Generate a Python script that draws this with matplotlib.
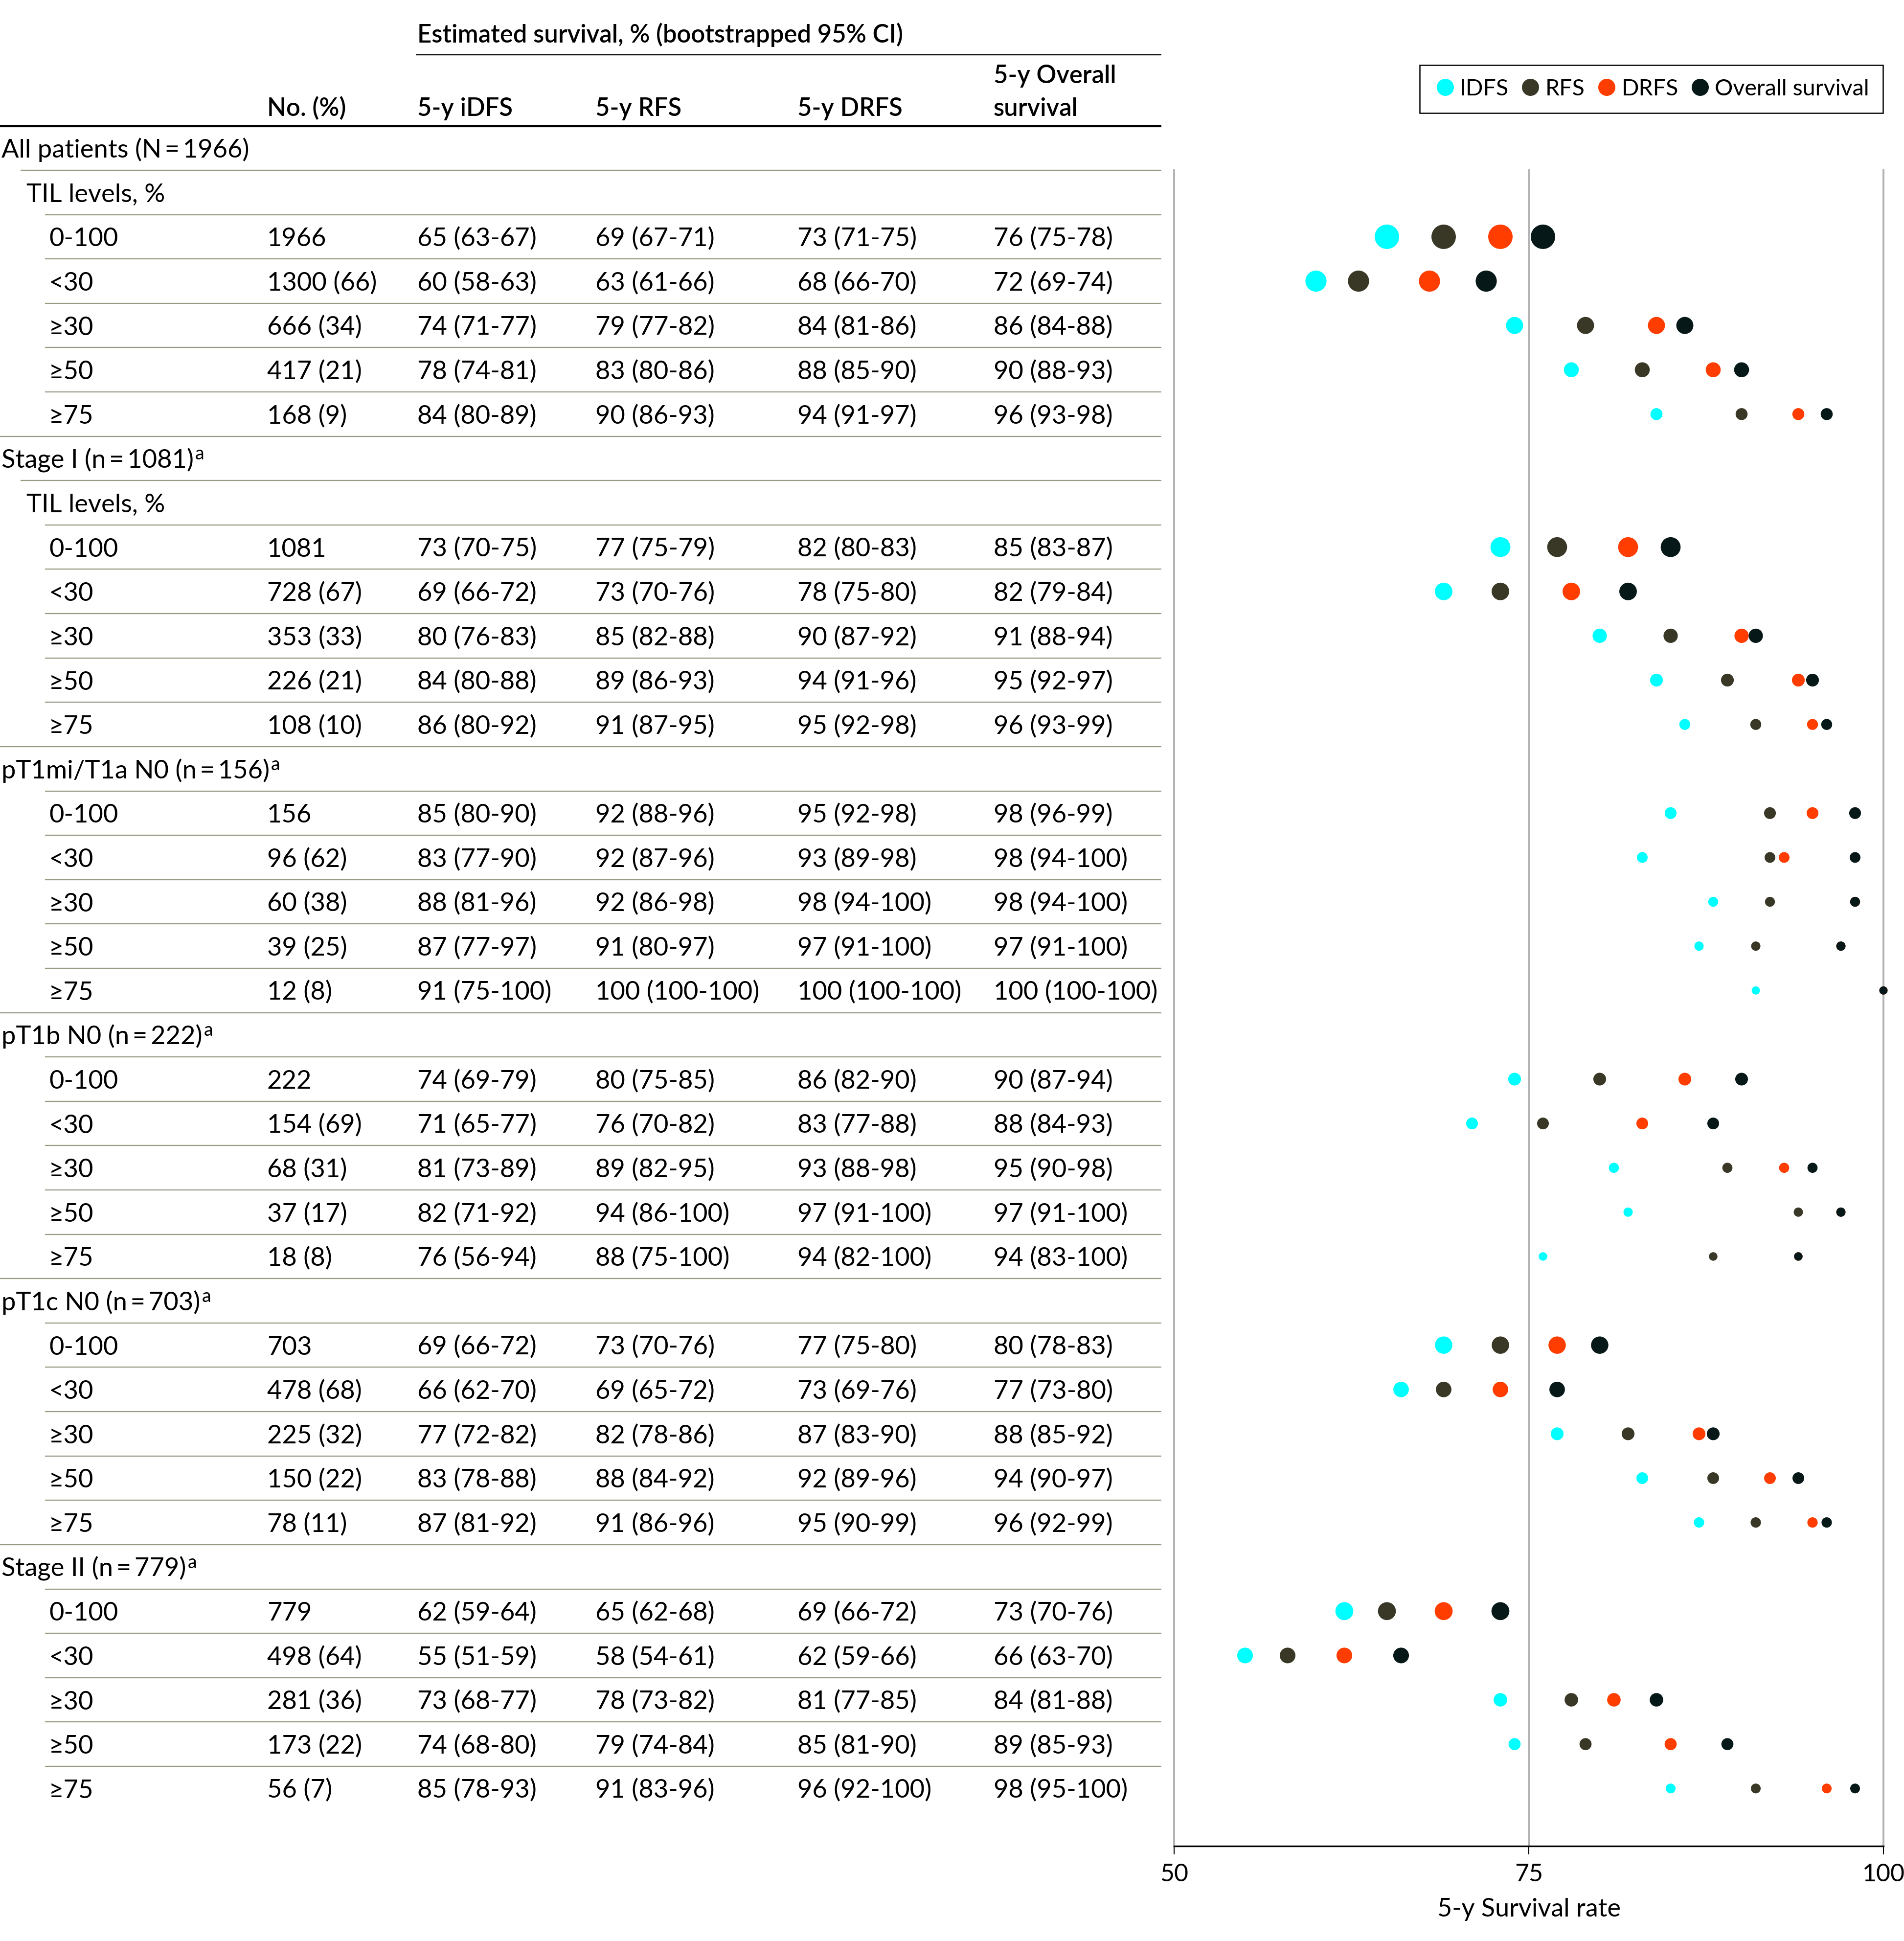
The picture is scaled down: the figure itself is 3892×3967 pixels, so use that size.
import numpy as np
import matplotlib
matplotlib.use("Agg")
import matplotlib.pyplot as plt
from matplotlib.lines import Line2D

plt.rcParams['font.family'] = ['Lato', 'DejaVu Sans']

# ---------------- data ----------------
group_titles = ["All patients (N\u2009=\u20091966)", "Stage I (n\u2009=\u20091081)",
                "pT1mi/T1a N0 (n\u2009=\u2009156)", "pT1b N0 (n\u2009=\u2009222)",
                "pT1c N0 (n\u2009=\u2009703)", "Stage II (n\u2009=\u2009779)"]
group_note = [False, True, True, True, True, True]
group_has_til = [True, True, False, False, False, False]
til_header = "TIL levels, %"
til_levels = ["0-100", "<30", "\u226530", "\u226550", "\u226575"]

n_counts = [[1966, 1300, 666, 417, 168],
            [1081, 728, 353, 226, 108],
            [156, 96, 60, 39, 12],
            [222, 154, 68, 37, 18],
            [703, 478, 225, 150, 78],
            [779, 498, 281, 173, 56]]
n_pcts = [[None, 66, 34, 21, 9],
          [None, 67, 33, 21, 10],
          [None, 62, 38, 25, 8],
          [None, 69, 31, 17, 8],
          [None, 68, 32, 22, 11],
          [None, 64, 36, 22, 7]]

idfs_est = [[65, 60, 74, 78, 84], [73, 69, 80, 84, 86], [85, 83, 88, 87, 91],
            [74, 71, 81, 82, 76], [69, 66, 77, 83, 87], [62, 55, 73, 74, 85]]
idfs_lo = [[63, 58, 71, 74, 80], [70, 66, 76, 80, 80], [80, 77, 81, 77, 75],
           [69, 65, 73, 71, 56], [66, 62, 72, 78, 81], [59, 51, 68, 68, 78]]
idfs_hi = [[67, 63, 77, 81, 89], [75, 72, 83, 88, 92], [90, 90, 96, 97, 100],
           [79, 77, 89, 92, 94], [72, 70, 82, 88, 92], [64, 59, 77, 80, 93]]

rfs_est = [[69, 63, 79, 83, 90], [77, 73, 85, 89, 91], [92, 92, 92, 91, 100],
           [80, 76, 89, 94, 88], [73, 69, 82, 88, 91], [65, 58, 78, 79, 91]]
rfs_lo = [[67, 61, 77, 80, 86], [75, 70, 82, 86, 87], [88, 87, 86, 80, 100],
          [75, 70, 82, 86, 75], [70, 65, 78, 84, 86], [62, 54, 73, 74, 83]]
rfs_hi = [[71, 66, 82, 86, 93], [79, 76, 88, 93, 95], [96, 96, 98, 97, 100],
          [85, 82, 95, 100, 100], [76, 72, 86, 92, 96], [68, 61, 82, 84, 96]]

drfs_est = [[73, 68, 84, 88, 94], [82, 78, 90, 94, 95], [95, 93, 98, 97, 100],
            [86, 83, 93, 97, 94], [77, 73, 87, 92, 95], [69, 62, 81, 85, 96]]
drfs_lo = [[71, 66, 81, 85, 91], [80, 75, 87, 91, 92], [92, 89, 94, 91, 100],
           [82, 77, 88, 91, 82], [75, 69, 83, 89, 90], [66, 59, 77, 81, 92]]
drfs_hi = [[75, 70, 86, 90, 97], [83, 80, 92, 96, 98], [98, 98, 100, 100, 100],
           [90, 88, 98, 100, 100], [80, 76, 90, 96, 99], [72, 66, 85, 90, 100]]

os_est = [[76, 72, 86, 90, 96], [85, 82, 91, 95, 96], [98, 98, 98, 97, 100],
          [90, 88, 95, 97, 94], [80, 77, 88, 94, 96], [73, 66, 84, 89, 98]]
os_lo = [[75, 69, 84, 88, 93], [83, 79, 88, 92, 93], [96, 94, 94, 91, 100],
         [87, 84, 90, 91, 83], [78, 73, 85, 90, 92], [70, 63, 81, 85, 95]]
os_hi = [[78, 74, 88, 93, 98], [87, 84, 94, 97, 99], [99, 100, 100, 100, 100],
         [94, 93, 98, 100, 100], [83, 80, 92, 97, 99], [76, 70, 88, 93, 100]]

series_labels = ["IDFS", "RFS", "DRFS", "Overall survival"]
series_colors = ["#00FFFF", "#393826", "#FF3D00", "#071818"]

col_headers = ["No. (%)", "5-y iDFS", "5-y RFS", "5-y DRFS", "5-y Overall\nsurvival"]
spanner = "Estimated survival, % (bootstrapped 95% CI)"
xticks = [50, 75, 100]
xlabel = "5-y Survival rate"

# ---------------- layout (pixels) ----------------
W, H = 3892, 3967
DPI = 300
fig = plt.figure(figsize=(W / DPI, H / DPI), dpi=DPI)
fig.patch.set_facecolor("white")

bg = fig.add_axes([0, 0, 1, 1])
bg.set_xlim(0, W)
bg.set_ylim(H, 0)
bg.axis("off")

ROW0 = 302.7
STEP = 90.61
TXT = 12.6
HDR = 12.2
CAP = 19.5  # half cap height in px
X_GROUP, X_TIL, X_VAL = 3, 54, 100
X_COLS = [546, 853, 1217, 1630, 2031]
X_END = 2374
SEP_COLOR = "#969c84"

# build rows
rows = []
for g in range(len(group_titles)):
    rows.append(("group", g, None))
    if group_has_til[g]:
        rows.append(("til", g, None))
    for i in range(len(til_levels)):
        rows.append(("value", g, i))

renderer = fig.canvas.get_renderer()
inv = bg.transData.inverted()

def fmt(e, lo, hi):
    return f"{e} ({lo}-{hi})"

value_row_k = []
for k, (kind, g, i) in enumerate(rows):
    yc = ROW0 + STEP * k
    yb = yc + CAP
    if kind == "group":
        t = bg.text(X_GROUP, yb, group_titles[g], fontsize=TXT, va="baseline", ha="left")
        if group_note[g]:
            bb = t.get_window_extent(renderer)
            xe = inv.transform((bb.x1, bb.y0))[0]
            bg.text(xe + 3, yb - 17, "a", fontsize=9, va="baseline", ha="left")
    elif kind == "til":
        bg.text(X_TIL, yb, til_header, fontsize=TXT, va="baseline", ha="left")
    else:
        bg.text(X_VAL, yb, til_levels[i], fontsize=TXT, va="baseline", ha="left")
        n = n_counts[g][i]
        p = n_pcts[g][i]
        bg.text(X_COLS[0], yb, f"{n}" if p is None else f"{n} ({p})", fontsize=TXT,
                va="baseline", ha="left")
        for c, (es, lo, hi) in enumerate([(idfs_est, idfs_lo, idfs_hi),
                                          (rfs_est, rfs_lo, rfs_hi),
                                          (drfs_est, drfs_lo, drfs_hi),
                                          (os_est, os_lo, os_hi)]):
            bg.text(X_COLS[c + 1], yb, fmt(es[g][i], lo[g][i], hi[g][i]), fontsize=TXT,
                    va="baseline", ha="left")
        value_row_k.append(k)
    # separator line after row
    if k < len(rows) - 1:
        nxt = rows[k + 1][0]
        if kind == "group":
            xs = 42 if nxt == "til" else 92
        elif kind == "til":
            xs = 92
        else:
            xs = 0 if nxt == "group" else 92
        ysep = yc + STEP / 2
        bg.plot([xs, X_END], [ysep, ysep], color=SEP_COLOR, lw=0.55, solid_capstyle="butt")

# header
bg.text(X_COLS[1], 87, spanner, fontsize=HDR, fontweight="semibold", va="baseline", ha="left")
bg.plot([850, X_END], [111.6, 111.6], color="black", lw=0.55, solid_capstyle="butt")
for c, h in enumerate(col_headers):
    lines = h.split("\n")
    for j, ln in enumerate(reversed(lines)):
        bg.text(X_COLS[c], 237 - 67 * j, ln, fontsize=HDR, fontweight="semibold",
                va="baseline", ha="left")
bg.plot([0, X_END], [258, 258], color="black", lw=1.0, solid_capstyle="butt")

# ---------------- dot plot ----------------
AX_L, AX_R, AX_T, AX_B = 2400, 3850, 348, 3773
ax = fig.add_axes([AX_L / W, 1 - AX_B / H, (AX_R - AX_L) / W, (AX_B - AX_T) / H])
ax.set_facecolor("none")
ax.set_xlim(50, 100)
ax.set_ylim((AX_B - ROW0) / STEP, (AX_T - ROW0) / STEP)

flat_n = np.array([n for grp in n_counts for n in grp], dtype=float)
d_px = 14 + 0.81 * np.sqrt(flat_n)
sizes = (d_px * 72 / DPI) ** 2
ys = np.array(value_row_k, dtype=float)

for s_idx, est in enumerate([idfs_est, rfs_est, drfs_est, os_est]):
    xv = np.array([v for grp in est for v in grp], dtype=float)
    ax.scatter(xv, ys, s=sizes, color=series_colors[s_idx], linewidths=0,
               zorder=3 + s_idx, clip_on=False)

for v in xticks:
    ax.axvline(v, color="#b4b4b4", lw=0.96, zorder=1, clip_on=False)

for sp in ["left", "right", "top"]:
    ax.spines[sp].set_visible(False)
ax.spines["bottom"].set_linewidth(0.8)
ax.spines["bottom"].set_color("black")
ax.spines["bottom"].set_zorder(2)
ax.set_yticks([])
ax.set_xticks(xticks)
ax.set_xticklabels([str(v) for v in xticks])
ax.tick_params(axis="x", length=4, width=0.5, pad=4.3, labelsize=12, direction="out")

bg.text((AX_L + AX_R) / 2, 3917, xlabel, fontsize=12.5, ha="center", va="baseline")

handles = [Line2D([], [], marker="o", ls="none", markersize=8.4, markerfacecolor=c,
                  markeredgewidth=0, label=l) for l, c in zip(series_labels, series_colors)]
leg = fig.legend(handles=handles, loc="upper right",
                 bbox_to_anchor=(3849 / W, 1 - 132.6 / H), ncol=4, frameon=True,
                 fancybox=False, edgecolor="black", framealpha=1, fontsize=11.2,
                 handletextpad=0.15, columnspacing=0.45, borderpad=0.6, handlelength=1.0,
                 borderaxespad=0)
leg.get_frame().set_linewidth(0.6)

fig.savefig("out.png", dpi=DPI, facecolor="white")
